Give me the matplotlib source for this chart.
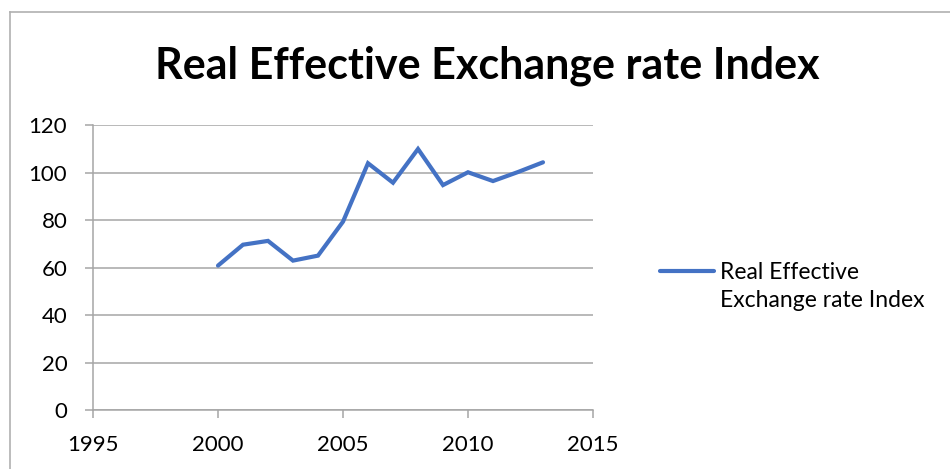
import numpy as np
import matplotlib
matplotlib.use("Agg")
import matplotlib.pyplot as plt
from matplotlib.lines import Line2D

# values
years = [2000, 2001, 2002, 2003, 2004, 2005, 2006, 2007, 2008, 2009, 2010, 2011, 2012, 2013]
reer = [60.8, 69.6, 71.2, 62.9, 65.0, 79.3, 103.9, 95.7, 109.9, 94.7, 100.1, 96.4, 100.2, 104.3]
series_name = "Real Effective\nExchange rate Index"
title = "Real Effective Exchange rate Index"
x_ticks = [1995, 2000, 2005, 2010, 2015]
y_ticks = [0, 20, 40, 60, 80, 100, 120]

plt.rcParams['font.family'] = ['Lato', 'DejaVu Sans']

grey = '#a6a6a6'
fig = plt.figure(figsize=(9.5, 4.69), dpi=100)
ax = fig.add_axes([93 / 950, 1 - 410 / 469, 500 / 950, 285 / 469])

ax.plot(years, reer, color='#4472c4', lw=3.0, solid_capstyle='round',
        solid_joinstyle='miter', label=series_name)

ax.set_xlim(1995, 2015)
ax.set_ylim(0, 120)
ax.set_xticks(x_ticks)
ax.set_yticks(y_ticks)
ax.grid(axis='y', color=grey, lw=1.1)
ax.set_axisbelow(True)
for s in ['top', 'right']:
    ax.spines[s].set_visible(False)
for s in ['left', 'bottom']:
    ax.spines[s].set_color(grey)
    ax.spines[s].set_linewidth(1.1)
ax.tick_params(axis='both', colors=grey, labelcolor='black', labelsize=16,
               length=6, width=1.1, direction='out')
ax.tick_params(axis='y', pad=12.5)
ax.tick_params(axis='x', pad=12)

fig.text(487 / 950, 1 - 78 / 469, title, ha='center', va='baseline',
         fontsize=31, fontweight='bold')

leg = ax.legend(loc='upper left', bbox_to_anchor=(639 / 950, 1 - 226 / 469),
                bbox_transform=fig.transFigure, frameon=False, fontsize=16.5,
                handlelength=2.36, handleheight=5.4, handletextpad=0.26)
for t in leg.get_texts():
    t.set_linespacing(1.45)

# chart area border (left and top edge only are in view)
fig.add_artist(Line2D([10 / 950, 10 / 950], [0, 1 - 12.5 / 469],
                      transform=fig.transFigure, color='#b0b0b0', lw=1.2))
fig.add_artist(Line2D([10 / 950, 1], [1 - 12.5 / 469, 1 - 12.5 / 469],
                      transform=fig.transFigure, color='#b0b0b0', lw=1.2))

fig.savefig('out.png', dpi=100)
